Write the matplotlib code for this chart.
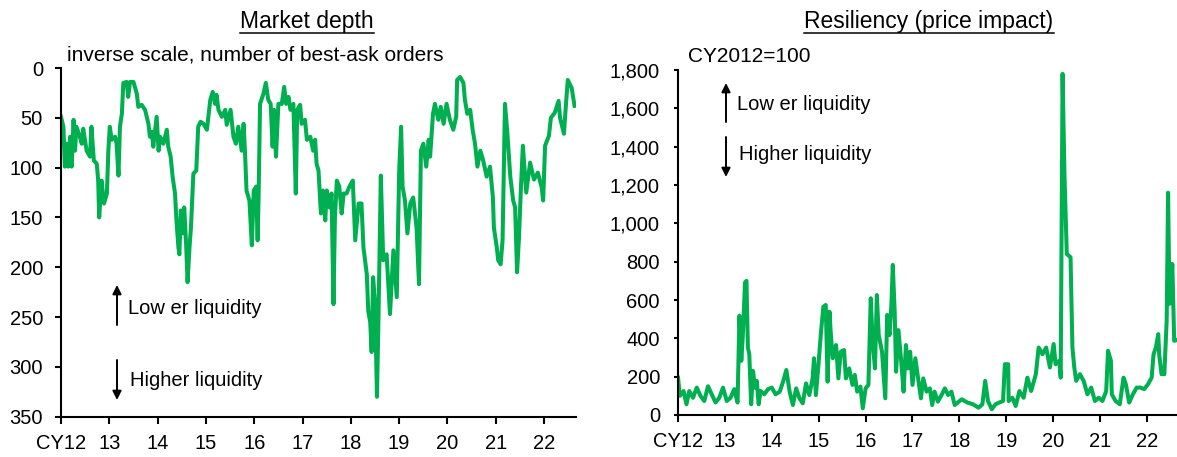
import matplotlib
matplotlib.use("Agg")
import matplotlib.pyplot as plt
from matplotlib.lines import Line2D
from matplotlib.patches import FancyArrowPatch
from matplotlib.ticker import FuncFormatter

plt.rcParams['font.family'] = ['Liberation Sans', 'DejaVu Sans']

GREEN = '#00B050'
W, H = 1177, 457

# market depth, inverse scale, number of best-ask orders
depth_year = [12.00, 12.05, 12.08, 12.12, 12.15, 12.19, 12.22, 12.26, 12.29, 12.32, 12.39, 12.43, 12.46,
              12.53, 12.60, 12.63, 12.68, 12.74, 12.77, 12.79, 12.84, 12.89, 12.95, 12.98, 13.01, 13.05,
              13.12, 13.15, 13.19, 13.22, 13.26, 13.29, 13.36, 13.39, 13.43, 13.50, 13.57, 13.60, 13.67,
              13.74, 13.81, 13.84, 13.88, 13.91, 13.98, 14.02, 14.05, 14.12, 14.19, 14.22, 14.27, 14.31,
              14.36, 14.39, 14.43, 14.45, 14.48, 14.52, 14.55, 14.59, 14.62, 14.66, 14.69, 14.74, 14.80,
              14.84, 14.89, 14.95, 15.02, 15.09, 15.14, 15.19, 15.22, 15.26, 15.33, 15.40, 15.43, 15.51,
              15.57, 15.62, 15.67, 15.74, 15.78, 15.81, 15.84, 15.90, 15.95, 15.99, 16.04, 16.07, 16.09,
              16.12, 16.19, 16.24, 16.29, 16.34, 16.38, 16.41, 16.45, 16.50, 16.57, 16.62, 16.66, 16.71,
              16.75, 16.81, 16.86, 16.89, 16.95, 16.98, 17.05, 17.09, 17.16, 17.22, 17.26, 17.29, 17.33,
              17.38, 17.42, 17.47, 17.50, 17.56, 17.60, 17.64, 17.67, 17.71, 17.76, 17.81, 17.85, 17.91,
              17.97, 18.04, 18.09, 18.16, 18.22, 18.26, 18.33, 18.36, 18.40, 18.43, 18.46, 18.50, 18.54,
              18.57, 18.62, 18.67, 18.74, 18.81, 18.88, 18.95, 19.00, 19.04, 19.07, 19.12, 19.17, 19.23,
              19.29, 19.36, 19.41, 19.45, 19.50, 19.56, 19.61, 19.64, 19.70, 19.74, 19.81, 19.86, 19.92,
              19.98, 20.05, 20.12, 20.18, 20.20, 20.26, 20.33, 20.36, 20.41, 20.47, 20.52, 20.57, 20.62,
              20.68, 20.74, 20.81, 20.88, 20.94, 20.96, 21.02, 21.05, 21.10, 21.14, 21.19, 21.24, 21.30,
              21.36, 21.40, 21.44, 21.48, 21.52, 21.56, 21.63, 21.71, 21.79, 21.87, 21.95, 21.98, 22.02,
              22.10, 22.14, 22.22, 22.30, 22.33, 22.41, 22.45, 22.49, 22.57, 22.63]
depth_val = [49, 59, 99, 76, 99, 69, 99, 52, 83, 59, 69, 76, 61,
             83, 89, 59, 93, 96, 113, 150, 113, 136, 126, 83, 59, 72,
             69, 76, 108, 59, 46, 15, 14, 29, 14, 14, 26, 39, 37,
             42, 56, 69, 64, 79, 49, 83, 69, 76, 62, 79, 89, 109,
             126, 153, 180, 187, 143, 166, 140, 177, 215, 180, 160, 106, 103,
             59, 54, 56, 62, 32, 24, 36, 27, 42, 49, 42, 57, 42,
             69, 76, 59, 83, 56, 86, 123, 133, 178, 123, 119, 173, 130,
             36, 26, 15, 32, 36, 79, 42, 89, 36, 36, 19, 36, 29,
             42, 36, 126, 42, 37, 56, 52, 72, 69, 83, 72, 96, 103,
             146, 123, 153, 123, 140, 126, 237, 150, 113, 119, 146, 126, 126,
             119, 113, 173, 136, 136, 180, 207, 244, 255, 285, 210, 235, 330,
             255, 108, 193, 187, 247, 183, 230, 103, 59, 119, 133, 166, 136,
             130, 160, 217, 83, 76, 99, 72, 89, 46, 36, 52, 39, 56,
             36, 52, 62, 49, 12, 9, 15, 32, 46, 42, 62, 76, 99,
             83, 93, 109, 99, 130, 160, 180, 193, 197, 173, 36, 66, 109,
             133, 140, 205, 170, 120, 78, 125, 95, 112, 105, 120, 133, 78,
             68, 50, 45, 33, 50, 66, 38, 12, 20, 38]

# resiliency (price impact), CY2012=100
resil_year = [12.00, 12.04, 12.12, 12.18, 12.24, 12.32, 12.40, 12.48, 12.56, 12.64, 12.72, 12.80, 12.88,
              12.96, 13.04, 13.12, 13.20, 13.27, 13.31, 13.35, 13.38, 13.43, 13.46, 13.49, 13.52, 13.56,
              13.60, 13.64, 13.68, 13.72, 13.76, 13.84, 13.92, 14.00, 14.08,
              14.17, 14.24, 14.31, 14.38, 14.45, 14.52, 14.59, 14.66, 14.73, 14.80, 14.87, 14.90, 14.94,
              15.00, 15.05, 15.10, 15.15, 15.19, 15.23, 15.26, 15.30, 15.37, 15.42, 15.47, 15.54, 15.58,
              15.65, 15.72, 15.77, 15.82, 15.89, 15.94, 16.00, 16.06, 16.11, 16.15, 16.20, 16.24, 16.28,
              16.35, 16.42, 16.46, 16.51, 16.55, 16.58, 16.62, 16.65, 16.70, 16.76, 16.81, 16.86, 16.90,
              16.95, 17.00, 17.06, 17.11, 17.18, 17.23, 17.30, 17.37, 17.42, 17.47, 17.54, 17.62, 17.69,
              17.76, 17.83, 17.90,
              18.05, 18.17, 18.29, 18.41, 18.49, 18.55, 18.61, 18.69, 18.77, 18.85, 18.93, 18.97, 19.04,
              19.05, 19.13, 19.20, 19.28, 19.37, 19.45, 19.53, 19.63, 19.69, 19.77, 19.85, 19.93, 20.01,
              20.05, 20.13, 20.16, 20.20, 20.24, 20.27, 20.29, 20.37, 20.41, 20.45, 20.49, 20.57, 20.65,
              20.73, 20.81, 20.89, 20.97, 21.05, 21.13, 21.17, 21.23, 21.25, 21.33, 21.42, 21.50, 21.55,
              21.62, 21.70, 21.78, 21.86, 21.94, 22.02, 22.10, 22.14, 22.19, 22.24, 22.26, 22.31, 22.37,
              22.42, 22.45, 22.48, 22.54, 22.58, 22.62]
resil_val = [195, 100, 125, 56, 125, 90, 143, 100, 73, 150, 108, 65, 90,
             143, 73, 90, 135, 65, 518, 283, 405, 692, 700, 352, 317, 56,
             230, 143, 178, 56, 125, 108, 135, 143, 108,
             122, 174, 235, 122, 52, 139, 87, 61, 165, 104, 191, 296, 104,
             278, 435, 565, 574, 174, 539, 417, 296, 365, 191, 330, 339, 191,
             243, 157, 209, 122, 148, 35, 139, 157, 609, 383, 243, 626, 417,
             330, 87, 522, 417, 574, 783, 539, 226, 443, 278, 122, 365, 243,
             330, 157, 296, 209, 87, 191, 122, 139, 52, 122, 70, 104, 139,
             104, 122, 52,
             82, 65, 56, 38, 56, 178, 73, 30, 56, 65, 73, 265, 265,
             73, 90, 47, 125, 90, 195, 125, 213, 352, 317, 352, 248, 370,
             265, 283, 195, 1780, 1260, 1015, 840, 823, 352, 248, 178, 213, 178,
             108, 143, 73, 90, 73, 125, 335, 283, 108, 73, 56, 195, 160,
             65, 108, 143, 143, 135, 160, 195, 317, 352, 422, 317, 213, 213,
             492, 1160, 580, 788, 387, 390]

year_ticks = list(range(12, 23))
year_labels = ['CY12'] + [str(y) for y in range(13, 23)]


def px_box(x0, x1, ytop, ybot):
    return [x0 / W, 1 - ybot / H, (x1 - x0) / W, (ybot - ytop) / H]


def style_axes(ax, ylen):
    for s in ['top', 'right']:
        ax.spines[s].set_visible(False)
    for s in ['left', 'bottom']:
        ax.spines[s].set_linewidth(1.5)
    ax.tick_params(axis='both', direction='out', width=1.5, labelsize=14.5, colors='black')
    ax.tick_params(axis='y', length=ylen, pad=13 - ylen)
    ax.tick_params(axis='x', length=4.8, pad=7.5)
    ax.set_xticks(year_ticks)
    ax.set_xticklabels(year_labels)


fig = plt.figure(figsize=(W / 100, H / 100), dpi=100)

ax1 = fig.add_axes(px_box(61, 576, 68, 416.7))
ax1.plot(depth_year, depth_val, color=GREEN, linewidth=2.9)
ax1.set_xlim(12, 22.66)
ax1.set_ylim(350, 0)
ax1.set_yticks(range(0, 351, 50))
style_axes(ax1, 4.3)

ax2 = fig.add_axes(px_box(678, 1177, 70, 415))
ax2.plot(resil_year, resil_val, color=GREEN, linewidth=2.9)
ax2.set_xlim(12, 22.64)
ax2.set_ylim(0, 1800)
ax2.set_yticks(range(0, 1801, 200))
ax2.yaxis.set_major_formatter(FuncFormatter(lambda v, p: f'{int(v):,}'))
style_axes(ax2, 2.8)


def fig_text(x, y, s, **kw):
    return fig.text(x / W, 1 - y / H, s, **kw)


# titles, underlined
titles = [fig_text(307, 28, 'Market depth', ha='center', va='baseline', fontsize=16.5),
          fig_text(929, 28, 'Resiliency (price impact)', ha='center', va='baseline', fontsize=16.5)]
fig.canvas.draw()
renderer = fig.canvas.get_renderer()
for t in titles:
    bb = t.get_window_extent(renderer)
    yl = (H - 32.5) / H
    fig.add_artist(Line2D([bb.x0 / W, bb.x1 / W], [yl, yl], transform=fig.transFigure,
                          color='black', linewidth=1.1))

fig_text(67, 55, 'inverse scale, number of best-ask orders', ha='left', va='center', fontsize=15)
fig_text(688, 56, 'CY2012=100', ha='left', va='center', fontsize=15)

# liquidity arrows
arrow_kw = dict(arrowstyle='-|>', color='black', lw=1.4, mutation_scale=13, shrinkA=0, shrinkB=0)
for x, (up_top, up_bot, lo_text), (dn_top, dn_bot, hi_text), tx in [
        (117, (285, 325, 309), (360, 400, 380), 128),
        (726, (83, 122, 105), (137, 177, 155), 737)]:
    fig.add_artist(FancyArrowPatch((x / W, 1 - up_bot / H), (x / W, 1 - up_top / H),
                                   transform=fig.transFigure, **arrow_kw))
    fig.add_artist(FancyArrowPatch((x / W, 1 - dn_top / H), (x / W, 1 - dn_bot / H),
                                   transform=fig.transFigure, **arrow_kw))
    fig_text(tx, lo_text, 'Low er liquidity', ha='left', va='center', fontsize=14.5)
    fig_text(tx + 2, hi_text, 'Higher liquidity', ha='left', va='center', fontsize=14.5)

fig.savefig('out.png', dpi=100)
